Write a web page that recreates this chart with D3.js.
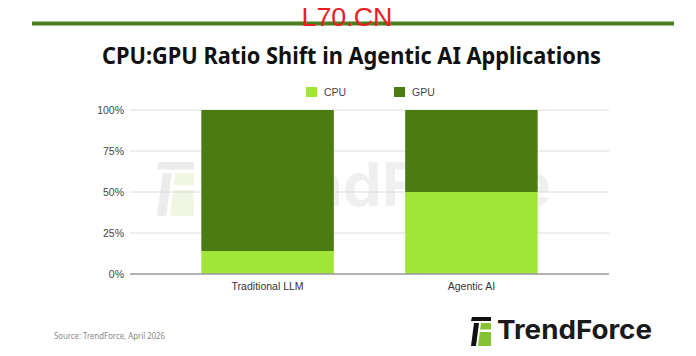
<!DOCTYPE html>
<html>
<head>
<meta charset="utf-8">
<script src="https://cdn.jsdelivr.net/npm/d3@7"></script>
<style>
  body{margin:0;background:#fff;}
  svg{display:block;}
</style>
</head>
<body>
<svg id="chart" width="696" height="356"></svg>
<script>
// chart data
const categories = ["Traditional LLM", "Agentic AI"]
const cpuShare = [0.14, 0.50]
const gpuShare = [0.86, 0.50]
const series = ["CPU", "GPU"]
const yTicks = [0, 0.25, 0.5, 0.75, 1]

const colors = {CPU: "#a2e539", GPU: "#4b7b11"}

let svg = d3.select('#chart')

// top rule + red mark
svg.append('rect').attr('x', 32).attr('y', 21.5).attr('width', 642).attr('height', 4).attr('fill', '#4a7d1e')
svg.append('text').attr('x', 347).attr('y', 26)
  .attr('text-anchor', 'middle').attr('font-family', 'Liberation Sans, Arial, sans-serif')
  .attr('font-size', 25.5).attr('fill', '#ea1c24').attr('textLength', 91).attr('lengthAdjust', 'spacingAndGlyphs')
  .text('L70.CN')

// title
svg.append('text').attr('x', 102).attr('y', 64)
  .attr('font-family', 'Noto Sans, sans-serif').attr('font-weight', 700)
  .attr('font-size', 22.5).attr('fill', '#111')
  .attr('textLength', 499).attr('lengthAdjust', 'spacingAndGlyphs')
  .text('CPU:GPU Ratio Shift in Agentic AI Applications')

// scales
let x = d3.scaleBand().domain(categories).range([130, 609]).paddingInner(0.35).paddingOuter(0.35)
let y = d3.scaleLinear().domain([0, 1]).range([274, 110])

// logo mark, drawn in a 20x29 box and scaled by s
function logo(g, s, dark, green, gap){
  let ic = g.append('g').attr('transform', 'scale(' + s + ')')
  ic.append('path').attr('d', 'M1,0 H20 V4 H0 Z').attr('fill', dark)
  ic.append('path').attr('d', 'M3,6 H8 L5,29 H0 Z').attr('fill', dark)
  ic.append('path').attr('d', 'M10,6 H20 V29 H7 Z').attr('fill', green)
  ic.append('path').attr('d', 'M9.3,12.5 H20 V15 H9 Z').attr('fill', gap)
  return ic
}

// faint watermark behind the plot
let wm = svg.append('g')
let wmIcon = wm.append('g').attr('transform', 'translate(157,162)')
logo(wmIcon, 1.85, '#ebebeb', '#f0f6e2', '#fff')
wm.append('text').attr('x', 206).attr('y', 206)
  .attr('font-family', 'Inter, Noto Sans, sans-serif').attr('font-weight', 700)
  .attr('font-size', 60).attr('fill', '#efefef')
  .attr('textLength', 345).attr('lengthAdjust', 'spacingAndGlyphs')
  .text('TrendForce')

// gridlines
let grid = svg.append('g')
grid.selectAll('line').data(yTicks.filter(d => d > 0)).join('line')
  .attr('x1', 130).attr('x2', 609)
  .attr('y1', d => y(d)).attr('y2', d => y(d))
  .attr('stroke', '#dcdcdc').attr('stroke-width', 1)

// y labels
let yaxis = d3.axisLeft(y).tickValues(yTicks).tickFormat(d3.format('.0%')).tickSize(0).tickPadding(6)
let ya = svg.append('g').attr('transform', 'translate(130,0)').call(yaxis)
ya.select('.domain').remove()
ya.selectAll('text').attr('font-family', 'Liberation Sans, Arial, sans-serif').attr('font-size', 10.5).attr('fill', '#444')

// stacked bars
let rows = categories.map((c, i) => ({cat: c, CPU: cpuShare[i], GPU: gpuShare[i]}))
let stacked = d3.stack().keys(series)(rows)
svg.append('g').selectAll('g').data(stacked).join('g')
  .attr('fill', d => colors[d.key])
  .selectAll('rect').data(d => d).join('rect')
  .attr('x', d => x(d.data.cat))
  .attr('width', x.bandwidth())
  .attr('y', d => y(d[1]))
  .attr('height', d => y(d[0]) - y(d[1]))

// baseline
svg.append('line').attr('x1', 130).attr('x2', 609).attr('y1', y(0)).attr('y2', y(0))
  .attr('stroke', '#999').attr('stroke-width', 1.3)

// x labels
let xaxis = d3.axisBottom(x).tickSize(0).tickPadding(9)
let xa = svg.append('g').attr('transform', 'translate(0,' + y(0) + ')').call(xaxis)
xa.select('.domain').remove()
xa.selectAll('text').attr('font-family', 'Liberation Sans, Arial, sans-serif').attr('font-size', 10.5).attr('fill', '#333')

// legend
let legX = [306, 394]
let leg = svg.append('g').selectAll('g').data(series).join('g')
  .attr('transform', (d, i) => 'translate(' + legX[i] + ',87)')
leg.append('rect').attr('width', 11).attr('height', 10).attr('fill', d => colors[d])
leg.append('text').attr('x', 18).attr('y', 9)
  .attr('font-family', 'Liberation Sans, Arial, sans-serif').attr('font-size', 10.5).attr('fill', '#444')
  .text(d => d)

// source
svg.append('text').attr('x', 54).attr('y', 339)
  .attr('font-family', 'Noto Sans, sans-serif').attr('font-size', 8.5).attr('fill', '#8a8a8a')
  .attr('textLength', 111).attr('lengthAdjust', 'spacingAndGlyphs')
  .text('Source: TrendForce, April 2026')

// brand logo bottom right
let brand = svg.append('g').attr('transform', 'translate(471,317)')
logo(brand, 1, '#111', '#86c232', '#fff')
svg.append('text').attr('x', 497).attr('y', 339)
  .attr('font-family', 'Inter, Noto Sans, sans-serif').attr('font-weight', 700)
  .attr('font-size', 26).attr('fill', '#1a1a1a')
  .attr('textLength', 155).attr('lengthAdjust', 'spacingAndGlyphs')
  .text('TrendForce')
</script>
</body>
</html>
